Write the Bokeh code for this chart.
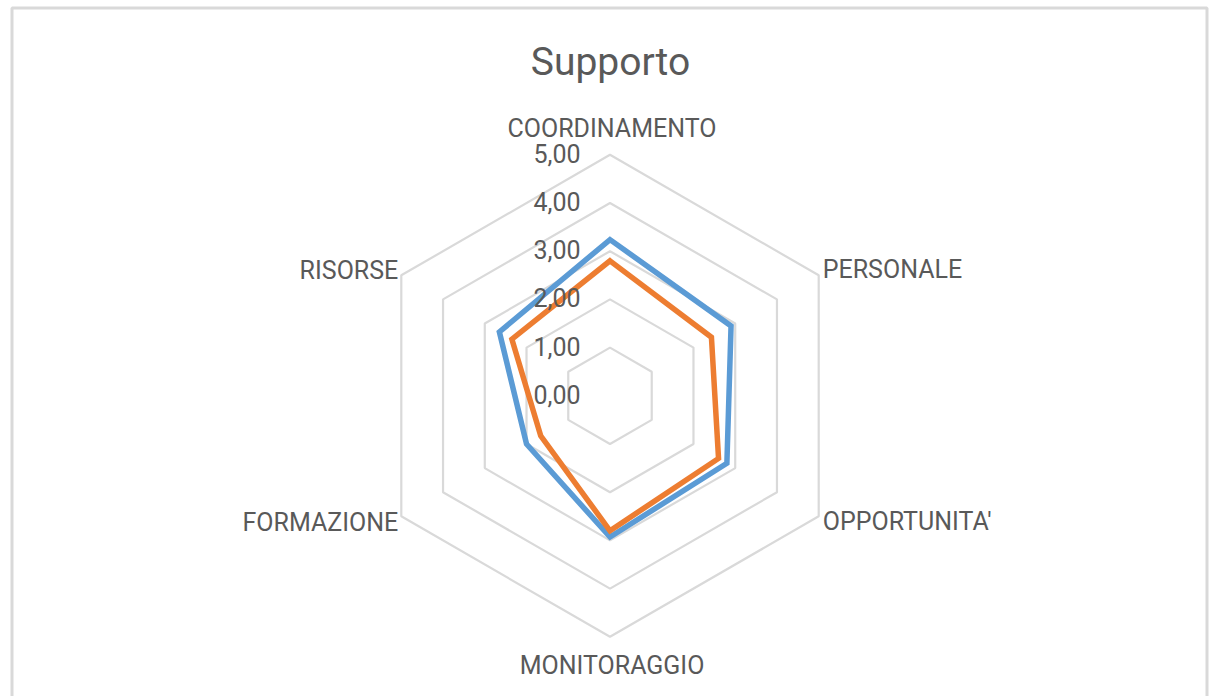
import numpy as np
from bokeh.plotting import figure
from bokeh.models import Range1d, ColumnDataSource
from bokeh.core.properties import value
from bokeh.embed import file_html
from bokeh.resources import INLINE

# ---- data ----
categories = ["COORDINAMENTO", "PERSONALE", "OPPORTUNITA'", "MONITORAGGIO", "FORMAZIONE", "RISORSE"]
series_blue = [3.24, 2.90, 2.80, 2.93, 2.00, 2.65]
series_orange = [2.80, 2.43, 2.60, 2.80, 1.66, 2.35]
ring_values = [1, 2, 3, 4, 5]
tick_values = [0, 1, 2, 3, 4, 5]
tick_labels = ["0,00", "1,00", "2,00", "3,00", "4,00", "5,00"]
title_text = "Supporto"

# ---- layout ----
W, H = 1210, 696
OX, OY = 0, 0                    # screenshot position of the figure origin
CX, CY, S = 609.5, 395.3, 48.2   # screenshot px of centre, px per unit
FONT = "Roboto"
TXT = "#595959"
GRID = "#D9D9D9"
BLUE = "#5B9BD5"
ORANGE = "#ED7D31"

def px(x_page):
    return (x_page - CX) / S

def py(y_page):
    return (CY - y_page) / S

p = figure(width=W, height=H, output_backend="svg", toolbar_location=None,
           x_range=Range1d(px(OX), px(OX + W)), y_range=Range1d(py(OY + H), py(OY)),
           x_axis_location=None, y_axis_location=None, min_border=0,
           outline_line_color=None, background_fill_color="white",
           border_fill_color="white")
p.grid.visible = False

n = len(categories)
ang = np.pi / 2 - np.arange(n) * 2 * np.pi / n
cosA, sinA = np.cos(ang), np.sin(ang)

# outer chart border
p.quad(left=[px(11.5)], right=[px(1206.5)], top=[py(7.5)], bottom=[py(760)],
       fill_color=None, line_color=GRID, line_width=3)

# hexagonal grid rings
p.patches(xs=[list(r * cosA) for r in ring_values], ys=[list(r * sinA) for r in ring_values],
          fill_color=None, line_color=GRID, line_width=2.2)

# series
for vals, col in [(series_blue, BLUE), (series_orange, ORANGE)]:
    v = np.array(vals)
    p.patch(x=list(v * cosA), y=list(v * sinA), fill_color=None, line_color=col,
            line_width=5.5, line_join="miter")

# tick labels
p.text(x=[px(580)] * len(tick_values), y=tick_values, text=tick_labels,
       text_align="right", text_baseline="middle", y_offset=-1.5,
       text_font=value(FONT), text_font_size="25px", text_color=TXT)

# category labels
rmax = max(ring_values)
aligns = ["center", "left", "left", "center", "right", "right"]
xoffs = [2, 4, 4, 2, -3, -3]
yoffs = [-26, -6, 5, 29, 6, -5]
src = ColumnDataSource(dict(x=list(rmax * cosA), y=list(rmax * sinA), t=categories,
                            a=aligns, xo=xoffs, yo=yoffs))
p.text(x="x", y="y", text="t", text_align="a", x_offset="xo", y_offset="yo",
       text_baseline="alphabetic", text_font=value(FONT), text_font_size="25px",
       text_color=TXT, source=src)

# title
p.text(x=[px(610)], y=[py(73)], text=[title_text], text_align="center",
       text_baseline="alphabetic", y_offset=-12, text_font=value(FONT),
       text_font_size="39px", text_color=TXT)

open("out.html", "w").write(file_html(p, INLINE))
